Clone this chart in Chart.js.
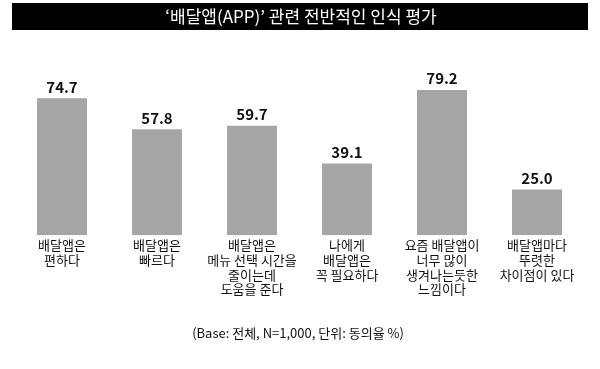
<!DOCTYPE html>
<html>
<head>
<meta charset="utf-8">
<script src="https://cdn.jsdelivr.net/npm/chart.js@4"></script>
<style>
  html,body{margin:0;padding:0;background:#fff;}
  #wrap{width:600px;height:369px;position:relative;}
</style>
</head>
<body>
<div id="wrap"><canvas id="c" width="600" height="369"></canvas></div>
<script>
// 데이터
const categories = [
  ['배달앱은','편하다'],
  ['배달앱은','빠르다'],
  ['배달앱은','메뉴 선택 시간을','줄이는데','도움을 준다'],
  ['나에게','배달앱은','꼭 필요하다'],
  ['요즘 배달앱이','너무 많이','생겨나는듯한','느낌이다'],
  ['배달앱마다','뚜렷한','차이점이 있다']
];
const agreeRates = [74.7, 57.8, 59.7, 39.1, 79.2, 25.0];
const titleText = '‘배달앱(APP)’ 관련 전반적인 인식 평가';
const noteText = '(Base: 전체, N=1,000, 단위: 동의율 %)';

const FONT = '"Noto Sans CJK KR", "Noto Sans", sans-serif';

// 제목 띠, 값 라벨, 주석
const decor = {
  id: 'decor',
  beforeDraw(chart){
    const ctx = chart.ctx;
    ctx.save();
    ctx.fillStyle = '#000';
    ctx.fillRect(12, 3, 576, 27);
    ctx.fillStyle = '#fff';
    ctx.font = '17px ' + FONT;
    ctx.textAlign = 'center';
    ctx.textBaseline = 'middle';
    ctx.fillText(titleText, 301, 17);
    ctx.fillStyle = '#111';
    ctx.font = '13px ' + FONT;
    ctx.fillText(noteText, 298, 333);
    ctx.restore();
  },
  afterDatasetsDraw(chart){
    const ctx = chart.ctx;
    const meta = chart.getDatasetMeta(0);
    ctx.save();
    ctx.fillStyle = '#111';
    ctx.font = 'bold 15px ' + FONT;
    ctx.textAlign = 'center';
    ctx.textBaseline = 'bottom';
    meta.data.forEach((bar, i) => {
      ctx.fillText(agreeRates[i].toFixed(1), bar.x, bar.y - 4);
    });
    ctx.restore();
  }
};

new Chart(document.getElementById('c'), {
  type: 'bar',
  data: {
    labels: categories,
    datasets: [{
      data: agreeRates,
      backgroundColor: '#a5a5a5',
      borderWidth: 0,
      barPercentage: 0.526,
      categoryPercentage: 1.0
    }]
  },
  options: {
    responsive: false,
    animation: false,
    layout: { padding: { top: 52, left: 14.5, right: 15.5, bottom: 70 } },
    plugins: { legend: { display: false }, tooltip: { enabled: false } },
    scales: {
      y: { display: false, min: 0, max: 100 },
      x: {
        grid: { display: false, drawTicks: false },
        border: { display: false },
        ticks: {
          color: '#111',
          padding: 2,
          maxRotation: 0,
          autoSkip: false,
          font: { family: FONT, size: 13, lineHeight: 1.15 }
        }
      }
    }
  },
  plugins: [decor]
});
</script>
</body>
</html>
